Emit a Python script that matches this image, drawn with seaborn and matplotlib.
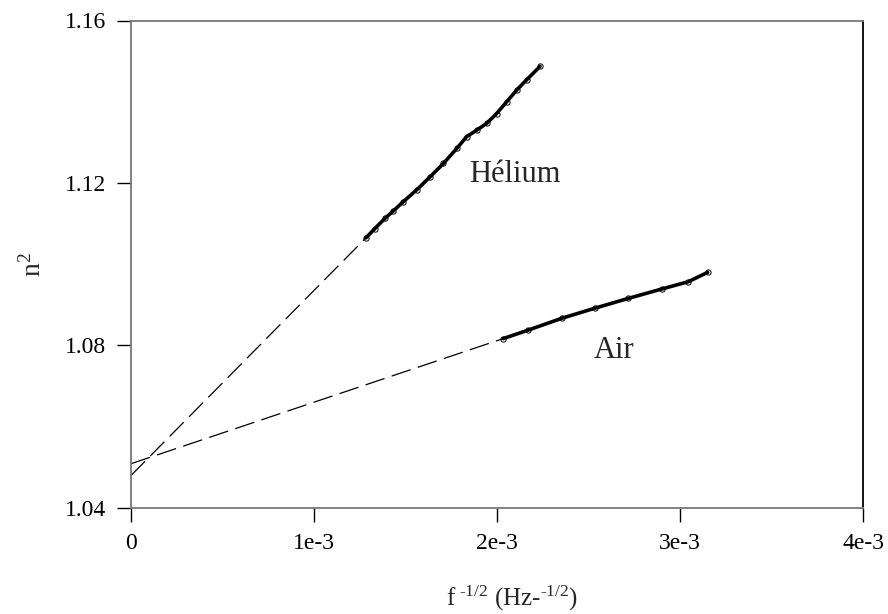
import numpy as np
import pandas as pd
import matplotlib
matplotlib.use('Agg')
import matplotlib.pyplot as plt
import seaborn as sns

# values (x in Hz^-1/2, y = n^2)
helium_x = [1.284e-3, 1.333e-3, 1.388e-3, 1.433e-3, 1.488e-3, 1.561e-3, 1.634e-3, 1.707e-3,
            1.780e-3, 1.834e-3, 1.889e-3, 1.944e-3, 1.998e-3, 2.053e-3, 2.108e-3, 2.162e-3, 2.235e-3]
helium_y = [1.1065, 1.1088, 1.1113, 1.1131, 1.1154, 1.1183, 1.1215, 1.1248,
            1.1285, 1.1314, 1.1330, 1.1347, 1.1371, 1.1400, 1.1429, 1.1454, 1.1487]
air_x = [2.034e-3, 2.171e-3, 2.354e-3, 2.536e-3, 2.718e-3, 2.900e-3, 3.045e-3, 3.151e-3]
air_y = [1.0817, 1.0838, 1.0867, 1.0892, 1.0916, 1.0939, 1.0957, 1.0980]

# extrapolated fits down to x = 0
helium_fit_x = [0, 1.284e-3]
helium_fit_y = [1.0480, 1.1065]
air_fit_x = [0, 2.034e-3]
air_fit_y = [1.0509, 1.0817]

xticks = [0, 1e-3, 2e-3, 3e-3, 4e-3]
xtick_labels = ['0', '1e-3', '2e-3', '3e-3', '4e-3']
yticks = [1.04, 1.08, 1.12, 1.16]
ytick_labels = ['1.04', '1.08', '1.12', '1.16']

sns.set_style('ticks')
plt.rcParams['font.family'] = ['Liberation Serif', 'DejaVu Serif']
plt.rcParams['mathtext.fontset'] = 'custom'
plt.rcParams['mathtext.rm'] = 'Liberation Serif'
plt.rcParams['mathtext.it'] = 'Liberation Serif'

fig = plt.figure(figsize=(8.88, 6.14), dpi=100)
ax = fig.add_axes([131 / 888, 1 - 508 / 614, 732 / 888, 487.5 / 614])

helium = pd.DataFrame({'x': helium_x, 'y': helium_y})
air = pd.DataFrame({'x': air_x, 'y': air_y})

for fx, fy in [(helium_fit_x, helium_fit_y), (air_fit_x, air_fit_y)]:
    ax.plot(fx, fy, color='black', lw=0.9, linestyle=(0, (16, 6)))

for df in [helium, air]:
    sns.lineplot(data=df, x='x', y='y', ax=ax, color='black', lw=2.6, sort=False)
    ax.plot(df['x'], df['y'], linestyle='none', marker='o', ms=3.8, mfc='none',
            mec='black', mew=0.7)

ax.text(2.098e-3, 1.1222, 'Hélium', fontsize=22, ha='center', va='center')
ax.text(2.639e-3, 1.0788, 'Air', fontsize=22, ha='center', va='center')

ax.set_xlim(0, 4e-3)
ax.set_ylim(1.04, 1.16)
ax.set_xticks(xticks)
ax.set_xticklabels(xtick_labels)
ax.set_yticks(yticks)
ax.set_yticklabels(ytick_labels)
ax.tick_params(direction='out', length=10, width=1, colors='black', labelsize=17, pad=8)

for side in ['left', 'bottom', 'top']:
    ax.spines[side].set_color('#777777')
    ax.spines[side].set_linewidth(1.3)
ax.spines['right'].set_color('black')
ax.spines['right'].set_linewidth(1.3)

ax.set_xlabel('f$^{\\ \u20101/2}$ (Hz-$^{\u20101/2}$)', fontsize=18)
ax.set_ylabel(r'n$^2$', fontsize=20)
ax.xaxis.set_label_coords(0.52, -0.155)
ax.yaxis.set_label_coords(-0.115, 0.5)

fig.savefig('out.png', dpi=100)
